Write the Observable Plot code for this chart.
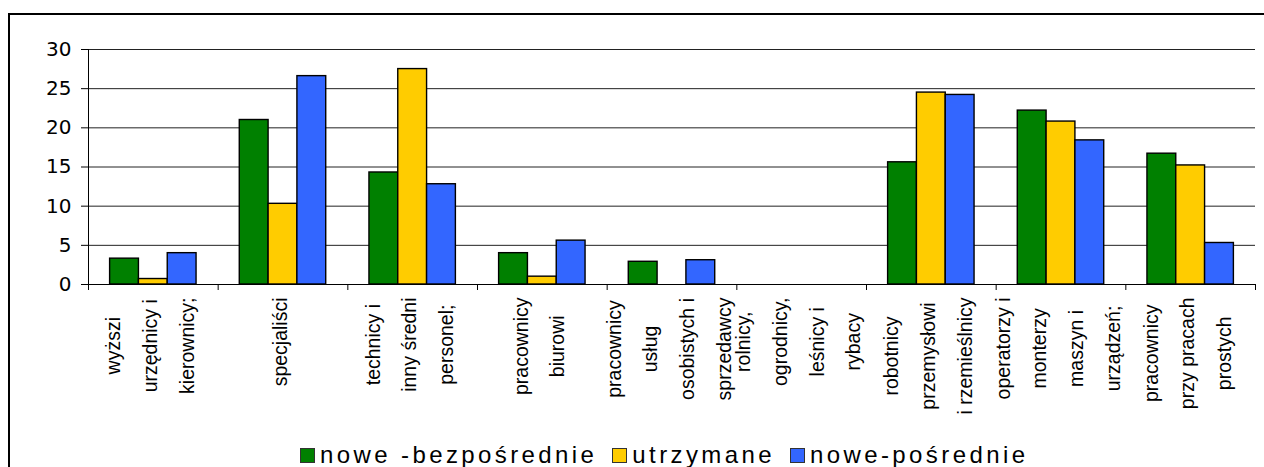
<!DOCTYPE html>
<html><head><meta charset="utf-8">
<script src="https://cdn.jsdelivr.net/npm/d3@7"></script>
<script src="https://cdn.jsdelivr.net/npm/@observablehq/plot@0.6"></script>
<style>
body{margin:0;background:#fff;}
#wrap{position:relative;width:1264px;height:467px;overflow:hidden;background:#fff;font-family:"Liberation Sans",Arial,sans-serif;}
#frame{position:absolute;left:8px;top:13px;width:1320px;height:520px;border:2px solid #000;box-sizing:border-box;}
#chart{position:absolute;left:0;top:0;}
#legend{position:absolute;top:441px;left:300px;display:flex;align-items:center;font-size:24px;letter-spacing:3.4px;color:#000;white-space:nowrap;}
.item{display:flex;align-items:center;margin-right:15px;}
.sw{width:13px;height:13px;border:1.5px solid #333;margin-right:5px;box-sizing:content-box;}
</style></head>
<body>
<div id="wrap">
  <div id="frame"></div>
  <div id="chart"></div>
  <div id="legend"></div>
</div>
<script>
const categoryLines = [
  ["wyższi", "urzędnicy i", "kierownicy;"],
  ["specjaliści"],
  ["technicy i", "inny średni", "personel;"],
  ["pracownicy", "biurowi"],
  ["pracownicy", "usług", "osobistych i", "sprzedawcy"],
  ["rolnicy,", "ogrodnicy,", "leśnicy i", "rybacy"],
  ["robotnicy", "przemysłowi", "i rzemieślnicy"],
  ["operatorzy i", "monterzy", "maszyn i", "urządzeń;"],
  ["pracownicy", "przy pracach", "prostych"]
];
const seriesNames = ["nowe -bezpośrednie", "utrzymane", "nowe-pośrednie"];
const noweBezposrednie = [3.3, 21.0, 14.3, 4.0, 2.9, 0, 15.6, 22.2, 16.7];
const utrzymane        = [0.7, 10.3, 27.5, 1.0, 0, 0, 24.5, 20.8, 15.2];
const nowePosrednie    = [4.0, 26.6, 12.8, 5.6, 3.1, 0, 24.2, 18.4, 5.3];
const seriesColors = ["#008000", "#FFCC00", "#3366FF"];
const yTicks = [0, 5, 10, 15, 20, 25, 30];

const seriesValues = [noweBezposrednie, utrzymane, nowePosrednie];
const nCat = categoryLines.length;
const nSer = seriesNames.length;
const gap = 1.5; // Excel gap width 150%
const slots = nSer + gap;
const rows = [];
seriesValues.forEach((vals, si) => vals.forEach((v, ci) => rows.push({ci, si, series: seriesNames[si], value: v})));

const labelFont = 19.5;
const labelFamily = '"Liberation Sans", Arial, sans-serif';
const ctx = document.createElement("canvas").getContext("2d");
ctx.font = `${labelFont}px ${labelFamily}`;
const labelRows = categoryLines.map((lines, ci) => ({ci, text: lines.join("\n"), maxLen: d3.max(lines, l => ctx.measureText(l).width)}));

const labelMarks = labelRows.map(r => Plot.text([r], {
  x: d => d.ci + 0.5, y: () => 0, text: "text",
  rotate: -90, textAnchor: "middle", lineAnchor: "middle", lineHeight: 1.88,
  fontSize: labelFont, fontFamily: labelFamily, fill: "#000",
  dx: -8, dy: 13 + r.maxLen / 2
}));

const chart = Plot.plot({
  width: 1264, height: 467,
  marginLeft: 88, marginRight: 9, marginTop: 49, marginBottom: 183,
  x: {domain: [0, nCat], axis: null},
  y: {domain: [0, 30], axis: null},
  color: {domain: seriesNames, range: seriesColors},
  style: {fontFamily: labelFamily, background: "transparent", overflow: "visible", color: "#000"},
  marks: [
    Plot.ruleY(yTicks.slice(1), {stroke: "#222", strokeWidth: 1}),
    Plot.rect(rows, {
      x1: d => d.ci + (gap / 2 + d.si) / slots,
      x2: d => d.ci + (gap / 2 + d.si + 1) / slots,
      y1: 0, y2: "value", fill: "series", stroke: "#000", strokeWidth: 1.4
    }),
    Plot.ruleY([0], {stroke: "#000", strokeWidth: 1}),
    Plot.ruleX([0], {stroke: "#000", strokeWidth: 1}),
    Plot.axisY({ticks: yTicks, label: null, tickSize: 7, tickPadding: 10, fontSize: 20, fontFamily: '"DejaVu Sans", sans-serif', fill: "#000"}),
    Plot.axisX({ticks: d3.range(0, nCat + 1), label: null, tickSize: 6, tickFormat: () => ""}),
    ...labelMarks
  ]
});
document.getElementById("chart").appendChild(chart);

const legend = d3.select("#legend");
seriesNames.forEach((name, i) => {
  const it = legend.append("div").attr("class", "item");
  it.append("div").attr("class", "sw").style("background", seriesColors[i]);
  it.append("span").text(name);
});
</script>
</body></html>
